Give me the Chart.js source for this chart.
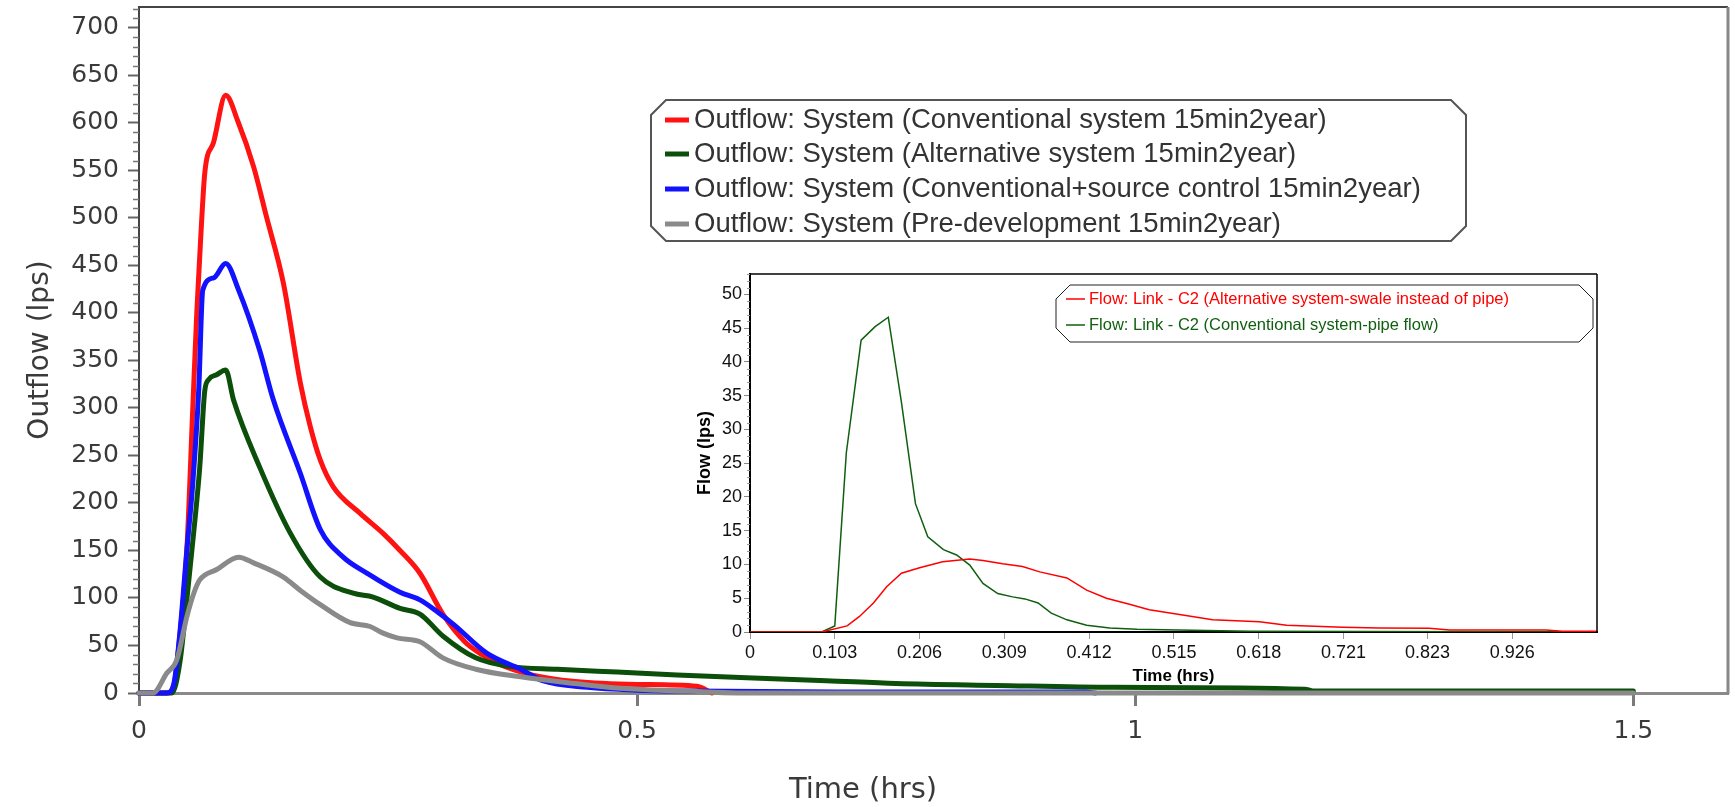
<!DOCTYPE html>
<html>
<head>
<meta charset="utf-8">
<script src="https://cdn.jsdelivr.net/npm/chart.js@4/dist/chart.umd.min.js"></script>
<style>
  body { margin: 0; background: #fff; }
  #wrap { position: relative; width: 1735px; height: 807px; }
  #mainChart { position: absolute; left: 0; top: 0; }
  #insetChart { position: absolute; left: 688px; top: 262px; }
</style>
</head>
<body>
<div id="wrap">
  <canvas id="mainChart" width="1735" height="807"></canvas>
  <canvas id="insetChart" width="917" height="428"></canvas>
</div>
<script>
// ---- main chart data (time in hrs, outflow in lps) ----
var mainNames = [
  'Outflow: System (Conventional system 15min2year)',
  'Outflow: System (Alternative system 15min2year)',
  'Outflow: System (Conventional+source control 15min2year)',
  'Outflow: System (Pre-development 15min2year)'
];
var mainColors = ['#ff1212', '#0b4f0b', '#1212ff', '#8a8a8a'];

var convTime = [0, 0.028, 0.035, 0.041, 0.048, 0.054, 0.058, 0.062, 0.066, 0.075, 0.087, 0.0995, 0.115, 0.128, 0.145, 0.162, 0.172, 0.182, 0.195, 0.222, 0.245, 0.262, 0.282, 0.305, 0.327, 0.345, 0.36, 0.394, 0.438, 0.5, 0.56, 0.575];
var convFlow = [0, 0, 8, 60, 150, 300, 400, 480, 547, 580, 629, 601, 554, 501, 431, 326, 280, 245, 217, 189, 168, 150, 126, 83, 54, 40, 31, 19, 12, 9, 7, 0];

var altTime = [0, 0.033, 0.041, 0.048, 0.055, 0.061, 0.066, 0.07, 0.078, 0.087, 0.095, 0.121, 0.152, 0.182, 0.215, 0.235, 0.262, 0.282, 0.305, 0.338, 0.372, 0.42, 0.48, 0.54, 0.61, 0.69, 0.76, 0.86, 0.98, 1.17, 1.18, 1.5];
var altFlow = [0, 0, 32, 98, 170, 238, 318, 330, 335, 340, 308, 238, 168, 122, 105, 101, 89, 83, 60, 37, 28, 25, 22, 19, 16, 13, 10, 8, 6, 4, 2, 2];

var srcTime = [0, 0.028, 0.035, 0.041, 0.048, 0.054, 0.06, 0.064, 0.075, 0.087, 0.1, 0.121, 0.135, 0.162, 0.182, 0.205, 0.229, 0.262, 0.282, 0.3, 0.316, 0.349, 0.383, 0.405, 0.45, 0.5, 0.55, 0.7, 0.95, 0.96];
var srcFlow = [0, 0, 10, 63, 150, 221, 320, 424, 437, 452, 424, 361, 308, 231, 172, 143, 126, 106, 98, 85, 72, 42, 25, 13, 6, 3, 2, 1, 1, 0];

var preTime = [0, 0.014, 0.028, 0.038, 0.048, 0.055, 0.061, 0.078, 0.1, 0.115, 0.145, 0.162, 0.182, 0.212, 0.232, 0.245, 0.259, 0.282, 0.305, 0.338, 0.383, 0.438, 0.483, 0.55, 0.6, 1.5];
var preFlow = [0, 0, 21, 35, 80, 105, 119, 130, 143, 137, 122, 108, 93, 74, 70, 63, 58, 54, 37, 25, 17, 10, 5, 2, 0, 0];

var mainXLabels = ['0', '0.5', '1', '1.5'];
var mainYTicks = [0, 50, 100, 150, 200, 250, 300, 350, 400, 450, 500, 550, 600, 650, 700];

// ---- inset chart data ----
var insetNames = [
  'Flow: Link - C2 (Alternative system-swale instead of pipe)',
  'Flow: Link - C2 (Conventional system-pipe flow)'
];
var insetColors = ['#ff0000', '#0f5f0f'];

var swaleTime = [0, 0.087, 0.118, 0.133, 0.15, 0.166, 0.184, 0.206, 0.234, 0.267, 0.283, 0.307, 0.331, 0.352, 0.385, 0.409, 0.433, 0.461, 0.485, 0.516, 0.562, 0.619, 0.652, 0.72, 0.765, 0.825, 0.85, 0.967, 0.987, 1.029];
var swaleFlow = [0, 0, 0.9, 2.3, 4.3, 6.7, 8.7, 9.5, 10.4, 10.8, 10.6, 10.1, 9.7, 8.9, 8.0, 6.2, 5.0, 4.1, 3.3, 2.7, 1.8, 1.5, 1.0, 0.7, 0.6, 0.55, 0.3, 0.3, 0.1, 0.1];

var pipeTime = [0, 0.087, 0.103, 0.117, 0.135, 0.152, 0.168, 0.184, 0.201, 0.216, 0.235, 0.251, 0.267, 0.283, 0.301, 0.319, 0.334, 0.35, 0.366, 0.385, 0.409, 0.437, 0.47, 0.52, 0.607, 1.029];
var pipeFlow = [0, 0, 0.9, 26.5, 43.2, 45.2, 46.6, 34, 19, 14.1, 12.2, 11.4, 9.9, 7.2, 5.7, 5.2, 4.9, 4.3, 2.8, 1.8, 1.0, 0.6, 0.4, 0.3, 0.1, 0];

var insetXLabels = ['0', '0.103', '0.206', '0.309', '0.412', '0.515', '0.618', '0.721', '0.823', '0.926'];
var insetYTicks = [0, 5, 10, 15, 20, 25, 30, 35, 40, 45, 50];

function toPoints(xs, ys) {
  return xs.map(function(x, i) { return { x: x, y: ys[i] }; });
}

function chamferPath(ctx, x, y, w, h, c) {
  ctx.beginPath();
  ctx.moveTo(x + c, y);
  ctx.lineTo(x + w - c, y);
  ctx.lineTo(x + w, y + c);
  ctx.lineTo(x + w, y + h - c);
  ctx.lineTo(x + w - c, y + h);
  ctx.lineTo(x + c, y + h);
  ctx.lineTo(x, y + h - c);
  ctx.lineTo(x, y + c);
  ctx.closePath();
}

// keep the plot box where it is in the picture (no extra room for edge labels)
function noEdgePad(s) {
  s.paddingTop = 0; s.paddingBottom = 0; s.paddingLeft = 0; s.paddingRight = 0;
}

// small tick marks between the labelled ones on the y axis
var minorTicks = {
  id: 'minorTicks',
  afterDraw: function(chart, args, o) {
    var s = chart.scales.y, ctx = chart.ctx;
    ctx.save();
    ctx.strokeStyle = o.color;
    ctx.lineWidth = o.width;
    for (var k = 0; k * o.step <= s.max; k++) {
      var v = k * o.step;
      if (v % o.major === 0) continue;
      var py = Math.round(s.getPixelForValue(v)) + 0.5;
      ctx.beginPath();
      ctx.moveTo(s.right - o.len, py);
      ctx.lineTo(s.right, py);
      ctx.stroke();
    }
    ctx.restore();
  }
};

var frame = {
  id: 'frame',
  afterDraw: function(chart, args, o) {
    var a = chart.chartArea, ctx = chart.ctx;
    ctx.save();
    ctx.lineWidth = o.topWidth;
    ctx.strokeStyle = o.topColor;
    ctx.beginPath(); ctx.moveTo(a.left, a.top); ctx.lineTo(a.right, a.top); ctx.stroke();
    ctx.lineWidth = o.rightWidth;
    ctx.strokeStyle = o.rightColor;
    ctx.beginPath(); ctx.moveTo(a.right, a.top); ctx.lineTo(a.right, a.bottom + 1); ctx.stroke();
    ctx.restore();
  }
};

var boxLegend = {
  id: 'boxLegend',
  afterDraw: function(chart, args, o) {
    var ctx = chart.ctx;
    ctx.save();
    chamferPath(ctx, o.x, o.y, o.w, o.h, o.cut);
    ctx.fillStyle = '#fff';
    ctx.fill();
    ctx.strokeStyle = o.border;
    ctx.lineWidth = o.borderWidth;
    ctx.stroke();
    ctx.font = o.font;
    ctx.textBaseline = 'middle';
    chart.data.datasets.forEach(function(ds, i) {
      var ry = o.rows[i];
      ctx.strokeStyle = ds.borderColor;
      ctx.lineWidth = o.swatchWidth;
      ctx.beginPath(); ctx.moveTo(o.swatch[0], ry); ctx.lineTo(o.swatch[1], ry); ctx.stroke();
      ctx.fillStyle = o.textColor || ds.borderColor;
      ctx.fillText(ds.label, o.textX, ry);
    });
    ctx.restore();
  }
};

var freeText = {
  id: 'freeText',
  afterDraw: function(chart, args, o) {
    var ctx = chart.ctx;
    ctx.save();
    ctx.font = o.font;
    ctx.fillStyle = o.color;
    ctx.textAlign = 'center';
    ctx.textBaseline = 'middle';
    ctx.fillText(o.text, o.x, o.y);
    ctx.restore();
  }
};

var whiteBack = {
  id: 'whiteBack',
  beforeDraw: function(chart, args, o) {
    var ctx = chart.ctx;
    ctx.save();
    ctx.fillStyle = '#fff';
    ctx.fillRect(0, 0, chart.width, o.height);
    ctx.restore();
  }
};

var mainFont = 'DejaVu Sans';
var mainText = '#3a3a3a';

new Chart(document.getElementById('mainChart'), {
  type: 'line',
  data: {
    datasets: [
      { label: mainNames[0], data: toPoints(convTime, convFlow), borderColor: mainColors[0], order: 3 },
      { label: mainNames[1], data: toPoints(altTime, altFlow), borderColor: mainColors[1], order: 2 },
      { label: mainNames[2], data: toPoints(srcTime, srcFlow), borderColor: mainColors[2], order: 1 },
      { label: mainNames[3], data: toPoints(preTime, preFlow), borderColor: mainColors[3], order: 0 }
    ]
  },
  options: {
    responsive: false,
    animation: false,
    devicePixelRatio: 1,
    layout: { padding: { left: 0, top: 7, right: 7, bottom: 0 } },
    elements: {
      line: { borderWidth: 5, cubicInterpolationMode: 'monotone', borderCapStyle: 'round', borderJoinStyle: 'round' },
      point: { radius: 0 }
    },
    datasets: { line: { clip: false } },
    scales: {
      x: {
        type: 'linear', min: 0, max: 1.595,
        afterBuildTicks: function(s) { s.ticks = mainXLabels.map(function(l) { return { value: parseFloat(l) }; }); },
        afterFit: function(s) { s.height = 114; noEdgePad(s); },
        ticks: {
          callback: function(v, i) { return mainXLabels[i]; },
          font: { family: mainFont, size: 25 }, color: mainText, padding: 10, maxRotation: 0, autoSkip: false
        },
        grid: { drawOnChartArea: false, drawTicks: true, tickLength: 13, tickColor: '#7a7a7a', tickWidth: 3 },
        border: { display: true, color: '#8a8a8a', width: 3 }
      },
      y: {
        min: 0, max: 722,
        afterBuildTicks: function(s) { s.ticks = mainYTicks.map(function(v) { return { value: v }; }); },
        afterFit: function(s) { s.width = 139; noEdgePad(s); },
        ticks: { font: { family: mainFont, size: 25 }, color: mainText, padding: 9 },
        grid: { drawOnChartArea: false, drawTicks: true, tickLength: 11, tickColor: '#666', tickWidth: 2 },
        border: { display: true, color: '#444', width: 2 },
        title: { display: true, text: 'Outflow (lps)', font: { family: mainFont, size: 28 }, color: mainText, padding: { top: 24, bottom: 0 } }
      }
    },
    plugins: {
      legend: { display: false },
      tooltip: { enabled: false },
      minorTicks: { step: 10, major: 50, len: 6, color: '#777', width: 1.5 },
      frame: { topColor: '#444', topWidth: 2, rightColor: '#888', rightWidth: 3 },
      boxLegend: {
        x: 651, y: 100, w: 815, h: 141, cut: 15, border: '#555', borderWidth: 2,
        rows: [120, 154, 189, 224], swatch: [665, 689], swatchWidth: 5, textX: 694,
        font: '27.5px "Liberation Sans"', textColor: '#333'
      },
      freeText: { text: 'Time (hrs)', x: 863, y: 790, font: '29px "DejaVu Sans"', color: mainText }
    }
  },
  plugins: [minorTicks, frame, boxLegend, freeText]
});

new Chart(document.getElementById('insetChart'), {
  type: 'line',
  data: {
    datasets: [
      { label: insetNames[0], data: toPoints(swaleTime, swaleFlow), borderColor: insetColors[0] },
      { label: insetNames[1], data: toPoints(pipeTime, pipeFlow), borderColor: insetColors[1] }
    ]
  },
  options: {
    responsive: false,
    animation: false,
    devicePixelRatio: 1,
    layout: { padding: { left: 0, top: 12, right: 8, bottom: 0 } },
    elements: {
      line: { borderWidth: 1.5, tension: 0 },
      point: { radius: 0 }
    },
    scales: {
      x: {
        type: 'linear', min: 0, max: 1.029,
        afterBuildTicks: function(s) { s.ticks = insetXLabels.map(function(l) { return { value: parseFloat(l) }; }); },
        afterFit: function(s) { s.height = 58; noEdgePad(s); },
        ticks: {
          callback: function(v, i) { return insetXLabels[i]; },
          font: { family: 'Liberation Sans', size: 18 }, color: '#111', padding: 3, maxRotation: 0, autoSkip: false
        },
        grid: { drawOnChartArea: false, drawTicks: true, tickLength: 7, tickColor: '#999', tickWidth: 1 },
        border: { display: true, color: '#000', width: 2 },
        title: { display: true, text: 'Time (hrs)', font: { family: 'Liberation Sans', size: 17, weight: 'bold' }, color: '#000', padding: { top: 0, bottom: 3 } }
      },
      y: {
        min: 0, max: 53,
        afterBuildTicks: function(s) { s.ticks = insetYTicks.map(function(v) { return { value: v }; }); },
        afterFit: function(s) { s.width = 62; noEdgePad(s); },
        ticks: { font: { family: 'Liberation Sans', size: 18 }, color: '#111', padding: 2 },
        grid: { drawOnChartArea: false, drawTicks: true, tickLength: 6, tickColor: '#888', tickWidth: 1 },
        border: { display: true, color: '#000', width: 2 },
        title: { display: true, text: 'Flow (lps)', font: { family: 'Liberation Sans', size: 18, weight: 'bold' }, color: '#000', padding: { top: 6, bottom: 0 } }
      }
    },
    plugins: {
      legend: { display: false },
      tooltip: { enabled: false },
      whiteBack: { height: 406 },
      minorTicks: { step: 1, major: 5, len: 3, color: '#999', width: 1 },
      frame: { topColor: '#000', topWidth: 1.5, rightColor: '#000', rightWidth: 1.5 },
      boxLegend: {
        x: 368, y: 23, w: 537, h: 57, cut: 14, border: '#222', borderWidth: 1,
        rows: [37, 63], swatch: [378, 397], swatchWidth: 1.5, textX: 401,
        font: '16.5px "Liberation Sans"'
      }
    }
  },
  plugins: [whiteBack, minorTicks, frame, boxLegend]
});
</script>
</body>
</html>
